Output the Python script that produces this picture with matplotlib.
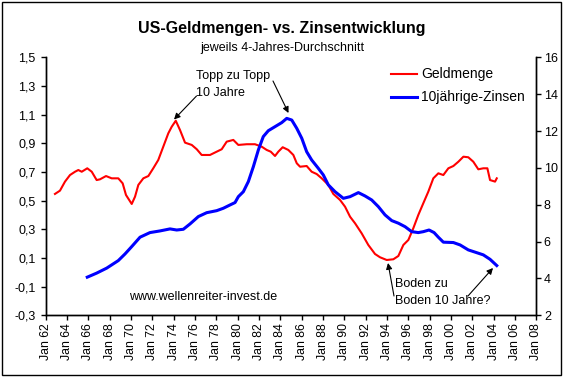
import matplotlib
matplotlib.use("Agg")
import matplotlib.pyplot as plt
from matplotlib.lines import Line2D
from matplotlib.patches import Rectangle

plt.rcParams['font.family'] = ['Liberation Sans', 'DejaVu Sans']

# ---- data (decimal years) ----
geld_years = [1962.86, 1963.33, 1963.80, 1964.27, 1964.74, 1965.05, 1965.37, 1965.89, 1966.31, 1966.77,
              1967.08, 1967.65, 1968.18, 1968.80, 1969.21, 1969.52, 1970.06, 1970.37, 1970.68, 1971.15,
              1971.62, 1972.08, 1972.55, 1973.02, 1973.49, 1973.81, 1974.19, 1974.59, 1975.06, 1975.69,
              1976.16, 1976.62, 1977.40, 1978.03, 1978.50, 1978.97, 1979.59, 1980.06, 1980.85, 1981.62,
              1982.25, 1982.72, 1983.10, 1983.50, 1983.81, 1984.22, 1984.75, 1985.22, 1985.54, 1985.85,
              1986.47, 1986.94, 1987.41, 1987.88, 1988.50, 1988.97, 1989.60, 1990.07, 1990.54, 1991.01,
              1991.63, 1992.25, 1992.88, 1993.35, 1993.98, 1994.60, 1995.07, 1995.54, 1996.01, 1996.47,
              1996.94, 1997.41, 1997.88, 1998.35, 1998.82, 1999.29, 1999.76, 2000.23, 2000.70, 2001.17,
              2001.63, 2002.10, 2002.57, 2003.04, 2003.42, 2003.67, 2004.14, 2004.30]
geld_values = [0.547, 0.570, 0.633, 0.679, 0.702, 0.714, 0.702, 0.726, 0.702, 0.644,
               0.649, 0.672, 0.656, 0.656, 0.621, 0.540, 0.477, 0.528, 0.610, 0.656,
               0.672, 0.726, 0.784, 0.877, 0.970, 1.016, 1.058, 0.993, 0.905, 0.889,
               0.859, 0.819, 0.819, 0.842, 0.859, 0.912, 0.924, 0.889, 0.894, 0.894,
               0.877, 0.854, 0.842, 0.812, 0.842, 0.873, 0.854, 0.819, 0.761, 0.737,
               0.742, 0.702, 0.686, 0.656, 0.610, 0.547, 0.505, 0.458, 0.388, 0.342,
               0.272, 0.191, 0.128, 0.105, 0.086, 0.091, 0.114, 0.191, 0.226, 0.307,
               0.400, 0.482, 0.563, 0.656, 0.691, 0.679, 0.726, 0.742, 0.772, 0.807,
               0.803, 0.772, 0.719, 0.726, 0.726, 0.644, 0.633, 0.656]

zins_years = [1965.89, 1966.77, 1967.71, 1968.80, 1969.43, 1970.06, 1970.84, 1971.77, 1972.71, 1973.65,
              1974.28, 1974.90, 1975.53, 1976.31, 1977.09, 1978.03, 1978.65, 1979.28, 1979.75, 1980.06,
              1980.53, 1981.00, 1981.47, 1981.94, 1982.40, 1982.87, 1983.50, 1984.13, 1984.60, 1985.07,
              1985.54, 1986.01, 1986.47, 1986.94, 1987.56, 1988.03, 1988.50, 1989.13, 1989.91, 1990.54,
              1991.32, 1991.94, 1992.57, 1993.19, 1993.82, 1994.45, 1995.07, 1995.70, 1996.32, 1996.94,
              1997.41, 1997.95, 1998.42, 1998.82, 1999.29, 2000.23, 2000.86, 2001.63, 2002.42, 2003.04,
              2003.67, 2004.30]
zins_values = [4.07, 4.29, 4.56, 4.97, 5.33, 5.73, 6.24, 6.49, 6.58, 6.69,
               6.63, 6.67, 6.96, 7.36, 7.57, 7.68, 7.81, 7.99, 8.12, 8.44,
               8.71, 9.26, 10.07, 10.98, 11.70, 12.02, 12.24, 12.46, 12.69, 12.60,
               12.15, 11.61, 10.88, 10.43, 9.98, 9.62, 9.08, 8.71, 8.35, 8.44,
               8.66, 8.48, 8.26, 7.90, 7.45, 7.14, 7.00, 6.81, 6.54, 6.49,
               6.54, 6.63, 6.49, 6.24, 5.97, 5.95, 5.82, 5.55, 5.40, 5.28,
               5.04, 4.70]

x_ticks = list(range(1962, 2009, 2))
x_labels = ["Jan %02d" % (y % 100) for y in x_ticks]
left_ticks = [-0.3, -0.1, 0.1, 0.3, 0.5, 0.7, 0.9, 1.1, 1.3, 1.5]
left_labels = ["-0,3", "-0,1", "0,1", "0,3", "0,5", "0,7", "0,9", "1,1", "1,3", "1,5"]
right_ticks = [2, 4, 6, 8, 10, 12, 14, 16]
right_labels = ["2", "4", "6", "8", "10", "12", "14", "16"]

W, H = 564, 378
def fx(px): return px / W
def fy(py): return 1 - py / H

fig = plt.figure(figsize=(W / 100, H / 100), dpi=100)
fig.patch.set_facecolor('white')
ax = fig.add_axes([fx(45.8), fy(315.3), fx(536.2) - fx(45.8), fy(57.4) - fy(315.3)])
ax2 = ax.twinx()

ax.plot(geld_years, geld_values, color='#FF0000', lw=1.5, solid_joinstyle='round')
ax2.plot(zins_years, zins_values, color='#0000FF', lw=2.2, solid_joinstyle='round')

ax.set_xlim(1962, 2008)
ax.set_ylim(-0.3, 1.5)
ax2.set_ylim(2, 16)
ax.set_xticks(x_ticks)
ax.set_xticklabels(x_labels, rotation=90, fontsize=8.8)
ax.set_yticks(left_ticks)
ax.set_yticklabels(left_labels, fontsize=9)
ax2.set_yticks(right_ticks)
ax2.set_yticklabels(right_labels, fontsize=9)

for a in (ax, ax2):
    a.spines['top'].set_visible(False)
    for s in ('left', 'right', 'bottom'):
        a.spines[s].set_linewidth(1.0)
        a.spines[s].set_color('black')
ax.tick_params(axis='both', direction='out', length=3.5, width=1.0, colors='black', pad=2)
ax.tick_params(axis='y', pad=4)
ax2.tick_params(axis='y', direction='out', length=3.5, width=1.0, colors='black', pad=2)

# Titles
fig.text(fx(282), fy(29), "US-Geldmengen- vs. Zinsentwicklung", ha='center', va='center',
         fontsize=11.5, fontweight='bold')
fig.text(fx(282), fy(48), "jeweils 4-Jahres-Durchschnitt", ha='center', va='center', fontsize=9)

# Legend (manual)
fig.add_artist(Line2D([fx(391), fx(416.5)], [fy(74), fy(74)], color='#FF0000', lw=1.5))
fig.text(fx(421), fy(74), "Geldmenge", ha='left', va='center', fontsize=10)
fig.add_artist(Line2D([fx(391), fx(416.5)], [fy(97), fy(97)], color='#0000FF', lw=2.2))
fig.text(fx(421), fy(97), "10jährige-Zinsen", ha='left', va='center', fontsize=10)

# Annotations
fig.text(fx(196), fy(76), "Topp zu Topp", ha='left', va='center', fontsize=9)
fig.text(fx(196), fy(93), "10 Jahre", ha='left', va='center', fontsize=9)
fig.text(fx(395), fy(284), "Boden zu", ha='left', va='center', fontsize=9)
fig.text(fx(395), fy(300.5), "Boden 10 Jahre?", ha='left', va='center', fontsize=9)
fig.text(fx(129), fy(296.7), "www.wellenreiter-invest.de", ha='left', va='center', fontsize=9)

arrow_kw = dict(arrowstyle='-|>', color='black', lw=0.8, mutation_scale=9, shrinkA=0, shrinkB=0)
for (x0, y0, x1, y1) in [(196.5, 96, 174, 119.5), (273, 81, 288.5, 113),
                         (394, 296, 388, 263), (468, 296, 493, 268)]:
    fig.add_artist(matplotlib.patches.FancyArrowPatch((fx(x0), fy(y0)), (fx(x1), fy(y1)),
                                                      transform=fig.transFigure, **arrow_kw))

# Outer border
fig.add_artist(Rectangle((fx(2), fy(375)), fx(561) - fx(2), fy(2) - fy(375),
                         transform=fig.transFigure, fill=False, edgecolor='black', lw=1.0))

fig.savefig("out.png", dpi=100)
